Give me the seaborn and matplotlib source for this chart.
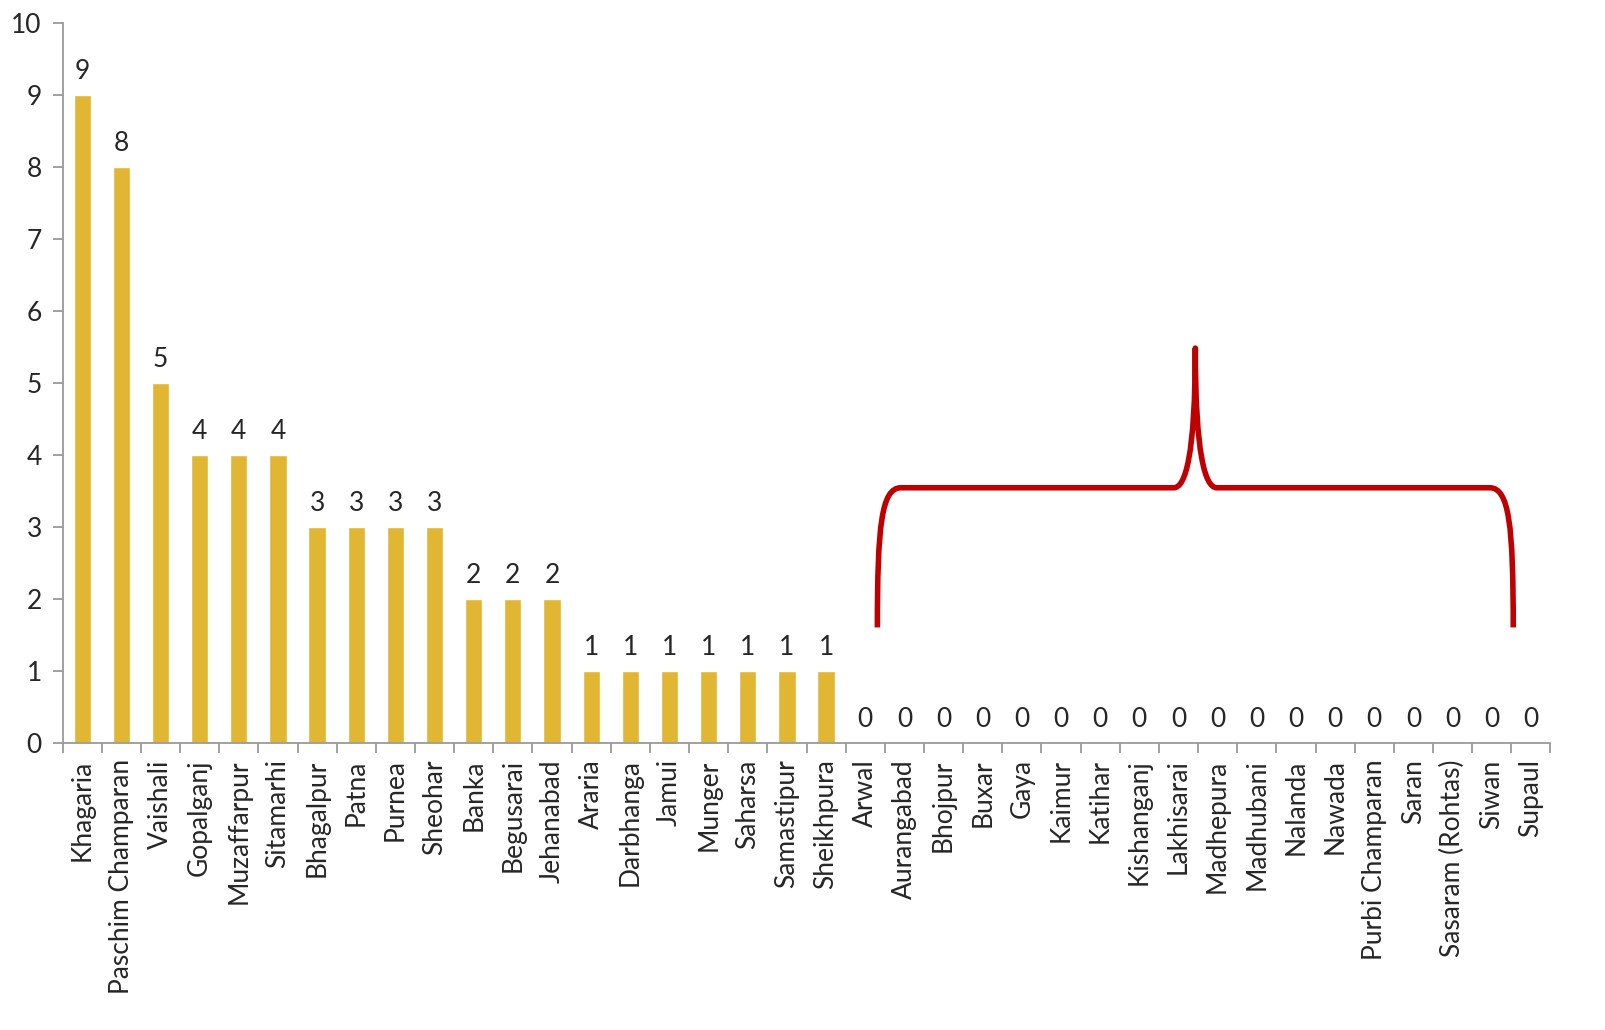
import numpy as np
import pandas as pd
import matplotlib.pyplot as plt
from matplotlib.path import Path
from matplotlib.patches import PathPatch
import seaborn as sns

distritos = ["Khagaria", "Paschim Champaran", "Vaishali", "Gopalganj", "Muzaffarpur",
             "Sitamarhi", "Bhagalpur", "Patna", "Purnea", "Sheohar", "Banka",
             "Begusarai", "Jehanabad", "Araria", "Darbhanga", "Jamui", "Munger",
             "Saharsa", "Samastipur", "Sheikhpura", "Arwal", "Aurangabad", "Bhojpur",
             "Buxar", "Gaya", "Kaimur", "Katihar", "Kishanganj", "Lakhisarai",
             "Madhepura", "Madhubani", "Nalanda", "Nawada", "Purbi Champaran", "Saran",
             "Sasaram (Rohtas)", "Siwan", "Supaul"]
valores = [9, 8, 5, 4, 4, 4, 3, 3, 3, 3, 2, 2, 2, 1, 1, 1, 1, 1, 1, 1,
           0, 0, 0, 0, 0, 0, 0, 0, 0, 0, 0, 0, 0, 0, 0, 0, 0, 0]
yticks = list(range(0, 11))

df = pd.DataFrame({"distrito": distritos, "valor": valores})

sns.set_style("white")
plt.rcParams["font.family"] = ["Lato", "DejaVu Sans"]

fig = plt.figure(figsize=(16.05, 10.30), dpi=100)
ax = fig.add_axes([0.039, 0.279, 0.927, 0.699])

sns.barplot(data=df, x="distrito", y="valor", color="#E1B632", width=0.44,
            saturation=1, ax=ax)

# rótulos de valor em cima das barras
ax.bar_label(ax.containers[0], fmt="%d", padding=8, fontsize=19)

ax.set_xlim(-0.5, len(distritos) - 0.5)
ax.set_ylim(0, 10)
ax.set_yticks(yticks)
ax.set_xlabel("")
ax.set_ylabel("")

# ticks do eixo x entre as categorias
ax.set_xticks(np.arange(-0.5, len(distritos), 1), minor=True)
ax.tick_params(axis="x", which="major", length=0, pad=12, labelsize=19, labelrotation=90)
ax.tick_params(axis="x", which="minor", length=7, width=1.3, color="#9a9a9a", bottom=True)
ax.tick_params(axis="y", length=7, width=1.3, color="#9a9a9a", labelsize=19, left=True, pad=8)

for lado in ["top", "right"]:
    ax.spines[lado].set_visible(False)
for lado in ["left", "bottom"]:
    ax.spines[lado].set_color("#9a9a9a")
    ax.spines[lado].set_linewidth(1.3)

# chave vermelha sobre os distritos com zero
x0, x1, xm = 20.31, 36.55, 28.43
yb, yh, yt = 1.6, 3.54, 5.48
verts = [
    (x0, yb), (x0, 3.0), (x0 + 0.1, yh), (x0 + 0.6, yh),
    (xm - 0.55, yh),
    (xm - 0.25, yh), (xm, 4.0), (xm, yt),
    (xm, 4.0), (xm + 0.25, yh), (xm + 0.55, yh),
    (x1 - 0.6, yh),
    (x1 - 0.1, yh), (x1, 3.0), (x1, yb),
]
codes = [Path.MOVETO, Path.CURVE4, Path.CURVE4, Path.CURVE4,
         Path.LINETO,
         Path.CURVE4, Path.CURVE4, Path.CURVE4,
         Path.CURVE4, Path.CURVE4, Path.CURVE4,
         Path.LINETO,
         Path.CURVE4, Path.CURVE4, Path.CURVE4]
chave = PathPatch(Path(verts, codes), facecolor="none", edgecolor="#C00000",
                  lw=4, capstyle="butt", joinstyle="round", clip_on=False)
ax.add_patch(chave)

fig.savefig("out.png", dpi=100)
